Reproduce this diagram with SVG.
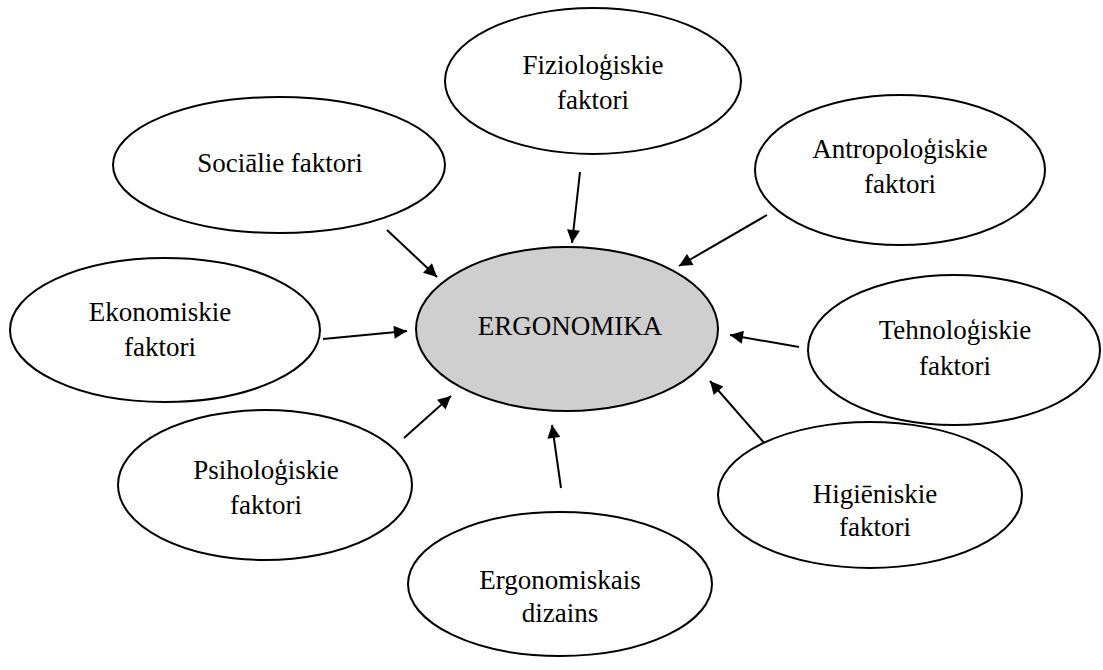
<svg xmlns="http://www.w3.org/2000/svg" width="1103" height="670" viewBox="0 0 1103 670">
<style>
.n{fill:#fff;stroke:#000;stroke-width:2}
.c{fill:#d0cfd0;stroke:#000;stroke-width:2}
text{font-family:"Liberation Serif","Times New Roman",serif;font-size:27px;fill:#000;text-anchor:middle}
.e{stroke:#000;stroke-width:2;fill:none;marker-end:url(#a)}
</style>
<defs>
<marker id="a" viewBox="0 0 10 10" refX="10" refY="5" markerWidth="7.5" markerHeight="6.5" orient="auto" markerUnits="strokeWidth">
<path d="M0,0 L10,5 L0,10 z" fill="#000"/>
</marker>
</defs>
<rect width="1103" height="670" fill="#fff"/>
<g id="connectors">
<line class="e" x1="580" y1="172" x2="572" y2="243"/>
<line class="e" x1="387" y1="230" x2="437" y2="277"/>
<line class="e" x1="767" y1="215" x2="679" y2="266"/>
<line class="e" x1="323" y1="339" x2="407" y2="331"/>
<line class="e" x1="799" y1="347" x2="730" y2="335"/>
<line class="e" x1="404" y1="438" x2="451" y2="396"/>
<line class="e" x1="766" y1="445" x2="710" y2="381"/>
<line class="e" x1="561" y1="488" x2="552" y2="425"/>
</g>
<g id="center">
<ellipse class="c" cx="567" cy="329" rx="151" ry="82"/>
<text x="570" y="335">ERGONOMIKA</text>
</g>
<g id="fizio">
<ellipse class="n" cx="593" cy="81" rx="148" ry="73"/>
<text x="593" y="74">Fizioloģiskie</text>
<text x="593" y="109">faktori</text>
</g>
<g id="social">
<ellipse class="n" cx="279" cy="165" rx="166" ry="68"/>
<text x="280" y="172">Sociālie faktori</text>
</g>
<g id="antro">
<ellipse class="n" cx="900" cy="170" rx="145" ry="75"/>
<text x="900" y="158">Antropoloģiskie</text>
<text x="900" y="193">faktori</text>
</g>
<g id="ekon">
<ellipse class="n" cx="165" cy="330" rx="155" ry="72"/>
<text x="160" y="321">Ekonomiskie</text>
<text x="160" y="356">faktori</text>
</g>
<g id="tehno">
<ellipse class="n" cx="954" cy="350" rx="146" ry="75"/>
<text x="955" y="339">Tehnoloģiskie</text>
<text x="955" y="375">faktori</text>
</g>
<g id="psih">
<ellipse class="n" cx="265" cy="485" rx="147" ry="75"/>
<text x="266" y="479">Psiholoģiskie</text>
<text x="266" y="514">faktori</text>
</g>
<g id="higi">
<ellipse class="n" cx="870" cy="495" rx="152" ry="73"/>
<text x="875" y="503">Higiēniskie</text>
<text x="875" y="536">faktori</text>
</g>
<g id="dizains">
<ellipse class="n" cx="560" cy="584" rx="152" ry="72"/>
<text x="560" y="589">Ergonomiskais</text>
<text x="560" y="622">dizains</text>
</g>
</svg>
